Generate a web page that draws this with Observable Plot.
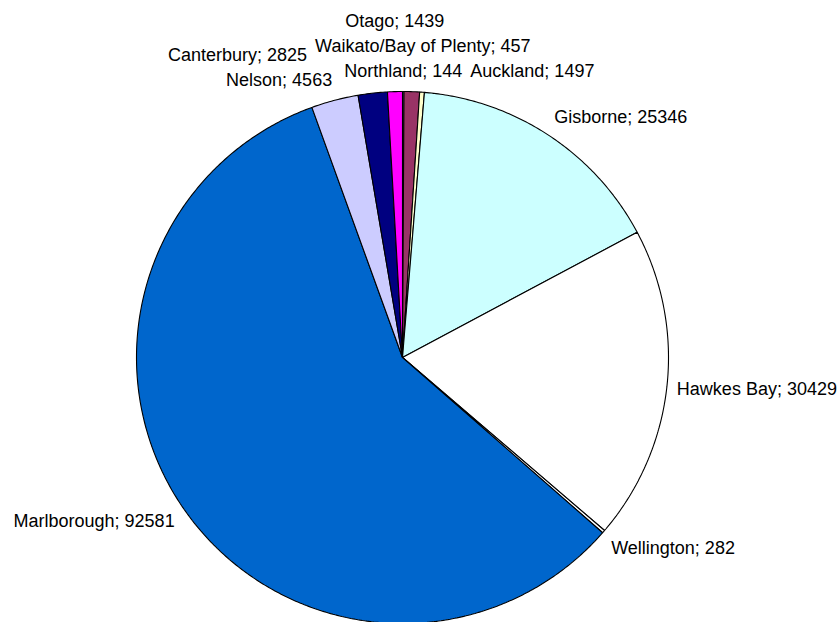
<!DOCTYPE html>
<html><head><meta charset="utf-8">
<script src="https://cdn.jsdelivr.net/npm/d3@7"></script>
<script src="https://cdn.jsdelivr.net/npm/@observablehq/plot@0.6"></script>
<style>html,body{margin:0;padding:0;background:#fff;}</style>
</head><body><div id="chart"></div>
<script>
// ---- data (north to south, as in the source sheet) ----
const regions = ["Northland","Auckland","Waikato/Bay of Plenty","Gisborne","Hawkes Bay","Wellington","Marlborough","Nelson","Canterbury","Otago"];
const values  = [144, 1497, 457, 25346, 30429, 282, 92581, 4563, 2825, 1439];
const colors  = ["#9999FF","#993366","#FFFFCC","#CCFFFF","#FFFFFF","#FFFFFF","#0066CC","#CCCCFF","#000080","#FF00FF"];

// ---- layout ----
const W = 838, H = 622, CX = 402, CY = 357, R = 266;
const FONT_SIZE = 18, FONT = "'Liberation Sans', Arial, sans-serif";
const LH = 20, GAP = 8, VG = 5, PAD = 10;

const arcs = d3.pie().sort(null).value(d => d)(values);

// slice polygons in unit-radius data coordinates
const polys = [];
arcs.forEach((a, i) => {
  const n = Math.max(2, Math.ceil((a.endAngle - a.startAngle) / (Math.PI / 360)));
  polys.push({name: regions[i], color: colors[i], x: 0, y: 0});
  for (let k = 0; k <= n; k++) {
    const t = a.startAngle + (a.endAngle - a.startAngle) * k / n;
    polys.push({name: regions[i], color: colors[i], x: Math.sin(t), y: Math.cos(t)});
  }
  polys.push({name: regions[i], color: colors[i], x: 0, y: 0});
});

// label placement (outside end, with simple collision avoidance)
const ctx = document.createElement("canvas").getContext("2d");
ctx.font = `${FONT_SIZE}px ${FONT}`;
const placed = [];
const labels = arcs.map((a, i) => {
  const text = `${regions[i]}; ${values[i]}`;
  const w = ctx.measureText(text).width;
  const th = (a.startAngle + a.endAngle) / 2, s = Math.sin(th), c = Math.cos(th);
  const px = CX + (R + PAD) * s, py = CY - (R + PAD) * c;
  const baseX = s > 0.1 ? px + w / 2 : s < -0.1 ? px - w / 2 : px;
  let y = py - Math.max(-1, Math.min(1, 1.5 * c)) * LH / 2;
  const box = (cx, cy) => ({x0: cx - w / 2, x1: cx + w / 2, y0: cy - LH / 2, y1: cy + LH / 2});
  const hits = b => placed.filter(p => b.x0 < p.x1 + GAP && b.x1 > p.x0 - GAP && b.y0 < p.y1 + VG && b.y1 > p.y0 - VG);
  const area = (b, p) => Math.max(0, Math.min(b.x1, p.x1) - Math.max(b.x0, p.x0)) * Math.max(0, Math.min(b.y1, p.y1) - Math.max(b.y0, p.y0));
  let fx = baseX, fy = y;
  for (let it = 0; it < 12; it++) {
    const hh0 = hits(box(baseX, y));
    if (!hh0.length) { fx = baseX; fy = y; break; }
    // try a sideways move
    const dir = s >= 0 ? 1 : -1;
    let nx = baseX;
    for (let j = 0; j < 10; j++) {
      const hh = hits(box(nx, y));
      if (!hh.length) break;
      nx = dir > 0 ? Math.max(...hh.map(p => p.x1)) + GAP + w / 2
                   : Math.min(...hh.map(p => p.x0)) - GAP - w / 2;
    }
    if (!hits(box(nx, y)).length && Math.abs(nx - baseX) <= w * 1.02) { fx = nx; fy = y; break; }
    // otherwise move outward vertically, clearing the most overlapped label
    const b = box(baseX, y);
    const big = hh0.reduce((m, p) => area(b, p) > area(b, m) ? p : m, hh0[0]);
    y = c >= 0 ? big.y0 - VG - LH / 2 : big.y1 + VG + LH / 2;
    fx = baseX; fy = y;
  }
  placed.push(box(fx, fy));
  return {text, x: (fx - CX) / R, y: (CY - fy) / R};
});

const chart = Plot.plot({
  width: W, height: H,
  margin: 0,
  style: {background: "#fff"},
  x: {domain: [-CX / R, (W - CX) / R], axis: null},
  y: {domain: [-(H - CY) / R, CY / R], axis: null},
  marks: [
    Plot.line(polys, {x: "x", y: "y", z: "name", fill: "color", stroke: "#000", strokeWidth: 1.1, strokeLinejoin: "miter", curve: "linear"}),
    Plot.text(labels, {x: "x", y: "y", text: "text", textAnchor: "middle", lineAnchor: "middle",
      fontSize: FONT_SIZE, fontFamily: FONT, fill: "#000"})
  ]
});
document.getElementById("chart").appendChild(chart);
</script>
</body></html>
